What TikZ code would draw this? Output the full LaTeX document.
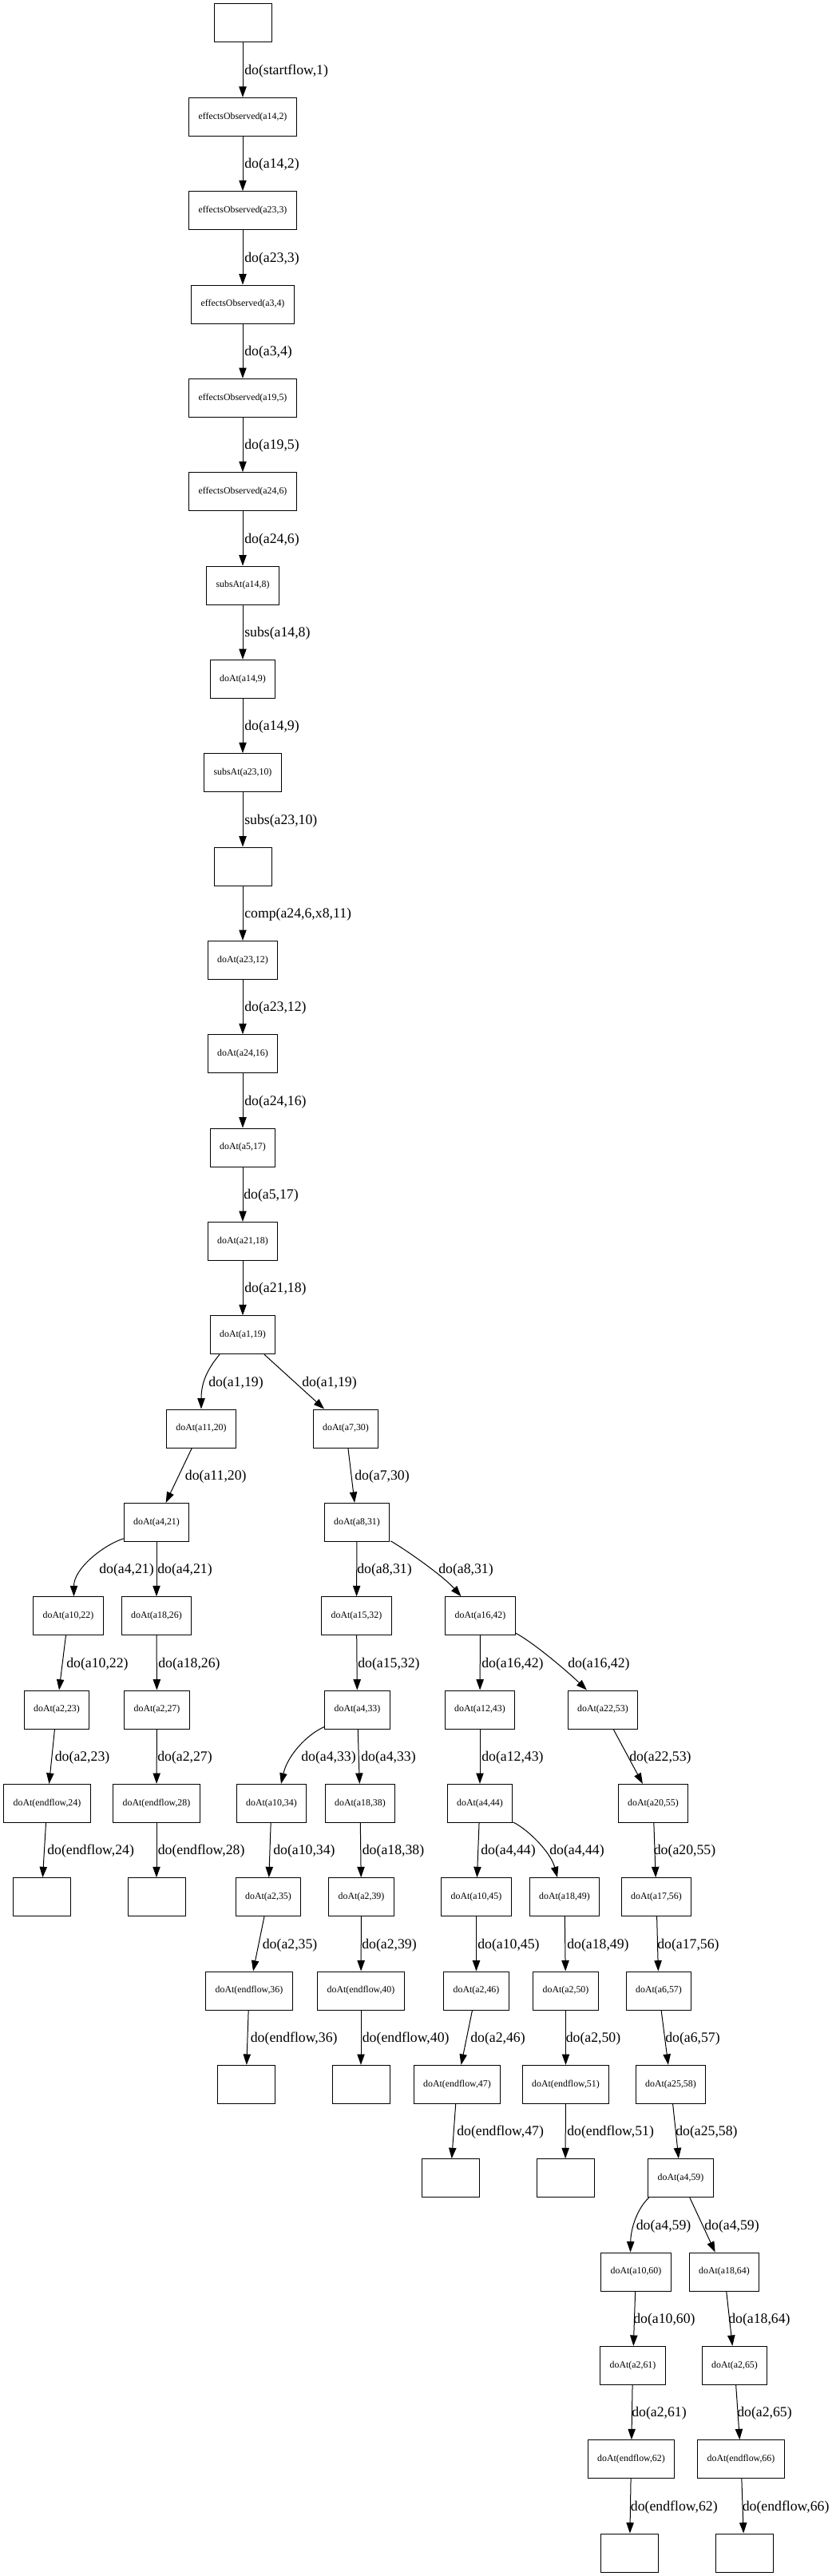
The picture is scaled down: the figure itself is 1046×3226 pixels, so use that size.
\documentclass[tikz,border=0pt]{standalone}
\usepackage{fontspec}
\setmainfont{Liberation Serif}
\usetikzlibrary{arrows.meta,calc}
\newcommand{\mybox}[4]{\node[box] (#1) at (#2,{29+117.333*#3}) {#4};}
\newcommand{\myempty}[3]{\node[box] (#1) at (#2,{29+117.333*#3}) {};}
\newcommand{\mylab}[4]{\node[lbl] (#1) at (#2,{89.17+117.333*#3}) {#4};}
\tikzset{
  box/.style={draw, line width=0.75pt, minimum width=54pt, minimum height=36pt, inner xsep=9pt, inner ysep=2pt, font=\fontsize{8.9}{10}\selectfont},
  lbl/.style={anchor=west, inner sep=0pt, font=\fontsize{13.3}{15}\selectfont},
  arr/.style={line width=0.75pt, -{Triangle[length=10pt,width=7pt]}}
}
\begin{document}
\begin{tikzpicture}[x=0.75pt,y=-0.75pt]
\fill[white] (0,0) rectangle (1046,3226);
\useasboundingbox (0,0) rectangle (1046,3226);
% trunk
\myempty{s1}{304}{0}
\mybox{s2}{304}{1}{effectsObserved(a14,2)}
\mybox{s3}{304}{2}{effectsObserved(a23,3)}
\mybox{s4}{304}{3}{effectsObserved(a3,4)}
\mybox{s5}{304}{4}{effectsObserved(a19,5)}
\mybox{s6}{304}{5}{effectsObserved(a24,6)}
\mybox{s8}{304}{6}{subsAt(a14,8)}
\mybox{s9}{304}{7}{doAt(a14,9)}
\mybox{s10}{304}{8}{subsAt(a23,10)}
\myempty{s11}{304}{9}
\mybox{s12}{304}{10}{doAt(a23,12)}
\mybox{s16}{304}{11}{doAt(a24,16)}
\mybox{s17}{304}{12}{doAt(a5,17)}
\mybox{s18}{304}{13}{doAt(a21,18)}
\mybox{s19}{304}{14}{doAt(a1,19)}
% branches
\mybox{s20}{252}{15}{doAt(a11,20)}
\mybox{s30}{433}{15}{doAt(a7,30)}
\mybox{s21}{196}{16}{doAt(a4,21)}
\mybox{s31}{447}{16}{doAt(a8,31)}
\mybox{s22}{85.5}{17}{doAt(a10,22)}
\mybox{s26}{196}{17}{doAt(a18,26)}
\mybox{s32}{446.5}{17}{doAt(a15,32)}
\mybox{s42}{601.5}{17}{doAt(a16,42)}
\mybox{s23}{71}{18}{doAt(a2,23)}
\mybox{s27}{196.5}{18}{doAt(a2,27)}
\mybox{s33}{447.5}{18}{doAt(a4,33)}
\mybox{s43}{601}{18}{doAt(a12,43)}
\mybox{s53}{755}{18}{doAt(a22,53)}
\mybox{s24}{59}{19}{doAt(endflow,24)}
\mybox{s28}{196}{19}{doAt(endflow,28)}
\mybox{s34}{340}{19}{doAt(a10,34)}
\mybox{s38}{451}{19}{doAt(a18,38)}
\mybox{s44}{601}{19}{doAt(a4,44)}
\mybox{s55}{818}{19}{doAt(a20,55)}
\myempty{f24}{52}{20}
\myempty{f28}{196}{20}
\mybox{s35}{336}{20}{doAt(a2,35)}
\mybox{s39}{452.5}{20}{doAt(a2,39)}
\mybox{s45}{596.5}{20}{doAt(a10,45)}
\mybox{s49}{707}{20}{doAt(a18,49)}
\mybox{s56}{822}{20}{doAt(a17,56)}
\mybox{s36}{312}{21}{doAt(endflow,36)}
\mybox{s40}{452}{21}{doAt(endflow,40)}
\mybox{s46}{596.5}{21}{doAt(a2,46)}
\mybox{s50}{708.5}{21}{doAt(a2,50)}
\mybox{s57}{825}{21}{doAt(a6,57)}
\myempty{f36}{308}{22}
\myempty{f40}{452}{22}
\mybox{s47}{572.5}{22}{doAt(endflow,47)}
\mybox{s51}{708.5}{22}{doAt(endflow,51)}
\mybox{s58}{840}{22}{doAt(a25,58)}
\myempty{f47}{564}{23}
\myempty{f51}{708}{23}
\mybox{s59}{852.5}{23}{doAt(a4,59)}
\mybox{s60}{796.5}{24}{doAt(a10,60)}
\mybox{s64}{907}{24}{doAt(a18,64)}
\mybox{s61}{792.5}{25}{doAt(a2,61)}
\mybox{s65}{920}{25}{doAt(a2,65)}
\mybox{s62}{790.5}{26}{doAt(endflow,62)}
\mybox{s66}{928}{26}{doAt(endflow,66)}
\myempty{f62}{788.5}{27}
\myempty{f66}{932}{27}
% edges: trunk
\draw[arr] (s1) -- (s2);
\draw[arr] (s2) -- (s3);
\draw[arr] (s3) -- (s4);
\draw[arr] (s4) -- (s5);
\draw[arr] (s5) -- (s6);
\draw[arr] (s6) -- (s8);
\draw[arr] (s8) -- (s9);
\draw[arr] (s9) -- (s10);
\draw[arr] (s10) -- (s11);
\draw[arr] (s11) -- (s12);
\draw[arr] (s12) -- (s16);
\draw[arr] (s16) -- (s17);
\draw[arr] (s17) -- (s18);
\draw[arr] (s18) -- (s19);
% branches
\draw[arr] ($(s19.south)+(-29,0)$) .. controls +(-13,16) and +(0,-36) .. (s20.north);
\draw[arr] (s19) -- (s30);
\draw[arr] (s20) -- (s21);
\draw[arr] (s30) -- (s31);
\draw[arr] ($(s21.south west)+(0,-4)$) .. controls +(-25,8) and +(0,-35) .. ($(s22.north)+(7,0)$);
\draw[arr] (s21) -- (s26);
\draw[arr] (s31) -- (s32);
\draw[arr] ($(s31.south east)+(1,-1)$) .. controls +(22,13) and +(-22,-25) .. ($(s42.north)+(-24,0)$);
\draw[arr] (s22) -- (s23);
\draw[arr] (s26) -- (s27);
\draw[arr] (s32) -- (s33);
\draw[arr] (s42) -- (s43);
\draw[arr] ($(s42.south east)+(0,-3)$) .. controls +(24,13) and +(-23,-22) .. ($(s53.north)+(-20,0)$);
\draw[arr] (s23) -- (s24);
\draw[arr] (s27) -- (s28);
\draw[arr] ($(s33.south west)+(0,-3)$) .. controls +(-22.5,10) and +(8,-35) .. ($(s34.north)+(12,0)$);
\draw[arr] (s33) -- (s38);
\draw[arr] (s43) -- (s44);
\draw[arr] (s53) -- (s55);
\draw[arr] (s24) -- (f24);
\draw[arr] (s28) -- (f28);
\draw[arr] (s34) -- (s35);
\draw[arr] (s38) -- (s39);
\draw[arr] (s44) -- (s45);
\draw[arr] ($(s44.south east)+(0,-1)$) .. controls +(19,9) and +(-8,-31) .. ($(s49.north)+(-9,0)$);
\draw[arr] (s55) -- (s56);
\draw[arr] (s35) -- (s36);
\draw[arr] (s39) -- (s40);
\draw[arr] (s45) -- (s46);
\draw[arr] (s49) -- (s50);
\draw[arr] (s56) -- (s57);
\draw[arr] (s36) -- (f36);
\draw[arr] (s40) -- (f40);
\draw[arr] (s46) -- (s47);
\draw[arr] (s50) -- (s51);
\draw[arr] (s57) -- (s58);
\draw[arr] (s47) -- (f47);
\draw[arr] (s51) -- (f51);
\draw[arr] (s58) -- (s59);
\draw[arr] ($(s59.south west)+(1.5,0)$) .. controls +(-14,13) and +(0.5,-31) .. ($(s60.north)+(-7,0)$);
\draw[arr] (s59) -- (s64);
\draw[arr] (s60) -- (s61);
\draw[arr] (s64) -- (s65);
\draw[arr] (s61) -- (s62);
\draw[arr] (s65) -- (s66);
\draw[arr] (s62) -- (f62);
\draw[arr] (s66) -- (f66);
% labels
\mylab{l0}{306}{0}{do(startflow,1)}
\mylab{l1}{306}{1}{do(a14,2)}
\mylab{l2}{306}{2}{do(a23,3)}
\mylab{l3}{306}{3}{do(a3,4)}
\mylab{l4}{306}{4}{do(a19,5)}
\mylab{l5}{306}{5}{do(a24,6)}
\mylab{l6}{306}{6}{subs(a14,8)}
\mylab{l7}{306}{7}{do(a14,9)}
\mylab{l8}{306}{8}{subs(a23,10)}
\mylab{l9}{306}{9}{comp(a24,6,x8,11)}
\mylab{l10}{306}{10}{do(a23,12)}
\mylab{l11}{306}{11}{do(a24,16)}
\mylab{l12}{305}{12}{do(a5,17)}
\mylab{l13}{306}{13}{do(a21,18)}
\mylab{l14a}{261}{14}{do(a1,19)}
\mylab{l14b}{378}{14}{do(a1,19)}
\mylab{l15a}{231.7}{15}{do(a11,20)}
\mylab{l15b}{444}{15}{do(a7,30)}
\mylab{l16a}{124}{16}{do(a4,21)}
\mylab{l16b}{197}{16}{do(a4,21)}
\mylab{l16c}{447}{16}{do(a8,31)}
\mylab{l16d}{549}{16}{do(a8,31)}
\mylab{l17a}{83}{17}{do(a10,22)}
\mylab{l17b}{198}{17}{do(a18,26)}
\mylab{l17c}{448}{17}{do(a15,32)}
\mylab{l17d}{603}{17}{do(a16,42)}
\mylab{l17e}{711}{17}{do(a16,42)}
\mylab{l18a}{68.6}{18}{do(a2,23)}
\mylab{l18b}{197}{18}{do(a2,27)}
\mylab{l18c}{377}{18}{do(a4,33)}
\mylab{l18d}{452}{18}{do(a4,33)}
\mylab{l18e}{603}{18}{do(a12,43)}
\mylab{l18f}{788}{18}{do(a22,53)}
\mylab{l19a}{59}{19}{do(endflow,24)}
\mylab{l19b}{197.5}{19}{do(endflow,28)}
\mylab{l19c}{342}{19}{do(a10,34)}
\mylab{l19d}{453.6}{19}{do(a18,38)}
\mylab{l19e}{602}{19}{do(a4,44)}
\mylab{l19f}{688}{19}{do(a4,44)}
\mylab{l19g}{818.6}{19}{do(a20,55)}
\mylab{l20a}{328.6}{20}{do(a2,35)}
\mylab{l20b}{453}{20}{do(a2,39)}
\mylab{l20c}{598}{20}{do(a10,45)}
\mylab{l20d}{710}{20}{do(a18,49)}
\mylab{l20e}{823}{20}{do(a17,56)}
\mylab{l21a}{313.6}{21}{do(endflow,36)}
\mylab{l21b}{453.6}{21}{do(endflow,40)}
\mylab{l21c}{589}{21}{do(a2,46)}
\mylab{l21d}{708.5}{21}{do(a2,50)}
\mylab{l21e}{833}{21}{do(a6,57)}
\mylab{l22a}{572}{22}{do(endflow,47)}
\mylab{l22b}{710}{22}{do(endflow,51)}
\mylab{l22c}{846}{22}{do(a25,58)}
\mylab{l23a}{796.6}{23}{do(a4,59)}
\mylab{l23b}{882}{23}{do(a4,59)}
\mylab{l24a}{793}{24}{do(a10,60)}
\mylab{l24b}{912}{24}{do(a18,64)}
\mylab{l25a}{791}{25}{do(a2,61)}
\mylab{l25b}{923}{25}{do(a2,65)}
\mylab{l26a}{789.7}{26}{do(endflow,62)}
\mylab{l26b}{929.5}{26}{do(endflow,66)}
\end{tikzpicture}
\end{document}
